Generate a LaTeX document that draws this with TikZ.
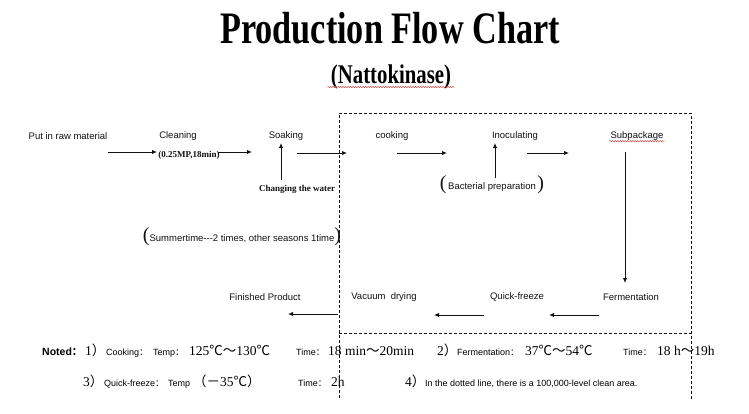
\documentclass[tikz,border=0pt]{standalone}
\usepackage{fontspec}
\setmainfont{Liberation Serif}
\setsansfont{Liberation Sans}
\newfontfamily\cjkfont{Noto Sans CJK SC}
\usepackage{graphicx}
\usetikzlibrary{arrows.meta, decorations.pathmorphing}
\definecolor{flowblack}{HTML}{111111}
\definecolor{spellred}{HTML}{D04848}
\newcommand{\degC}{{\cjkfont ℃}}
\newcommand{\wtilde}{{\cjkfont ～}}
\newcommand{\wcolon}{{\cjkfont ：}}
\newcommand{\wlparen}{{\cjkfont （}}
\newcommand{\wrparen}{{\cjkfont ）}}
\newcommand{\wminus}{{\cjkfont －}}
\newcommand{\bigparen}[1]{{\rmfamily\fontsize{20}{20}\selectfont #1}}

\begin{document}
\begin{tikzpicture}[
  x=1pt, y=-1pt,
  lbl/.style={font=\sffamily\fontsize{9.5}{11}\selectfont, inner sep=1pt, text=flowblack},
  serlbl/.style={font=\rmfamily\bfseries\fontsize{9}{10}\selectfont, inner sep=1pt, text=flowblack},
  note/.style={font=\sffamily\fontsize{9}{10}\selectfont, anchor=base west, inner sep=0pt},
  num/.style={font=\rmfamily\fontsize{13.5}{14}\selectfont, anchor=base west, inner sep=0pt},
  arrow/.style={-{Latex[length=5pt, width=4.5pt]}, line width=1pt, color=flowblack},
  cleanline/.style={dash pattern=on 3pt off 2pt, line width=0.8pt, color=flowblack},
  spell/.style={spellred, line width=0.5pt, decorate, decoration={snake, amplitude=0.6pt, segment length=2.5pt}},
]
\useasboundingbox (0,0) rectangle (749,413);

% title
\node[anchor=base] (title) at (390,43)
  {\scalebox{0.76}[1]{\fontsize{45}{45}\selectfont\bfseries Production Flow Chart}};
\node[anchor=base] (product) at (391,83)
  {\scalebox{0.77}[1]{\fontsize{27}{27}\selectfont\bfseries (Nattokinase)}};
\draw[spell] ([yshift=-4pt]product.base west) -- ([yshift=-4pt]product.base east);

% clean area
\coordinate (cltop) at (339,113);
\coordinate (crtop) at (691,113);
\draw[cleanline] (339,398) -- (cltop) -- (crtop) -- (691,399);
\draw[cleanline] (339,333) -- (691,333);

% upper row
\node[lbl] (raw) at (68,136) {Put in raw material};
\node[lbl] (clean) at (178,136) {Cleaning};
\node[serlbl] (press) at (189,155) {(0.25MP,18min)};
\node[lbl] (soak) at (286,136) {Soaking};
\node[serlbl] (water) at (297,189) {Changing the water};
\node[lbl] (season) at (242,237)
  {\bigparen{(}Summertime-{}-{}-2 times, other seasons 1time\bigparen{)}};
\node[lbl] (cook) at (392,136) {cooking};
\node[lbl] (inoc) at (515,136) {Inoculating};
\node[lbl] (bact) at (492,185) {\bigparen{(}\,Bacterial preparation\,\bigparen{)}};
\node[lbl] (sub) at (637,136) {Subpackage};
\draw[spell] ([yshift=0.5pt]sub.south west) -- ([yshift=0.5pt]sub.south east);

% lower row
\node[lbl] (ferm) at (631,297) {Fermentation};
\node[lbl] (freeze) at (517,297) {Quick-freeze};
\node[lbl] (vac) at (384,297) {Vacuum~~drying};
\node[lbl] (fin) at (265,297) {Finished Product};

% arrow ends
\coordinate (a1s) at (108,152); \coordinate (a1e) at (157,152);
\coordinate (a2s) at (218,152); \coordinate (a2e) at (252,152);
\coordinate (a3s) at (297,153); \coordinate (a3e) at (347,153);
\coordinate (a4s) at (397,153); \coordinate (a4e) at (447,153);
\coordinate (a5s) at (527,153); \coordinate (a5e) at (569,153);
\coordinate (u1s) at (281,180); \coordinate (u1e) at (281,143);
\coordinate (u2s) at (495,178); \coordinate (u2e) at (495,143);
\coordinate (d1s) at (625,152); \coordinate (d1e) at (625,283);
\coordinate (b1s) at (599,315); \coordinate (b1e) at (549,315);
\coordinate (b2s) at (484,315); \coordinate (b2e) at (434,315);
\coordinate (b3s) at (338,314); \coordinate (b3e) at (288,314);

\draw[arrow] (a1s) -- (a1e);
\draw[arrow] (a2s) -- (a2e);
\draw[arrow] (a3s) -- (a3e);
\draw[arrow] (a4s) -- (a4e);
\draw[arrow] (a5s) -- (a5e);
\draw[arrow] (u1s) -- (u1e);
\draw[arrow] (u2s) -- (u2e);
\draw[arrow] (d1s) -- (d1e);
\draw[arrow] (b1s) -- (b1e);
\draw[arrow] (b2s) -- (b2e);
\draw[arrow] (b3s) -- (b3e);

% notes
\node[note, font=\sffamily\bfseries\fontsize{10.5}{12}\selectfont] (noted) at (42,355) {Noted\wcolon};
\node[num] (one) at (85,355) {1\wrparen};
\node[note] (cooknote) at (106,355) {Cooking\wcolon};
\node[note] (tempa) at (153,355) {Temp\wcolon};
\node[num] (cooktemp) at (189,355) {125\degC\wtilde130\degC};
\node[note] (timea) at (296,355) {Time\wcolon};
\node[num] (cooktime) at (328,355) {18 min\wtilde20min};
\node[num] (two) at (437,355) {2\wrparen};
\node[note] (fermnote) at (457,355) {Fermentation\wcolon};
\node[num] (fermtemp) at (525,355) {37\degC\wtilde54\degC};
\node[note] (timeb) at (623,355) {Time\wcolon};
\node[num] (fermtime) at (657,355) {18 h\wtilde19h};

\node[num] (three) at (83,386) {3\wrparen};
\node[note] (qfnote) at (104,386) {Quick-freeze\wcolon};
\node[note] (tempb) at (168,386) {Temp};
\node[num] (qftemp) at (193,386) {\wlparen\wminus35\degC\wrparen};
\node[note] (timec) at (298,386) {Time\wcolon};
\node[num] (qftime) at (331,386) {2h};
\node[num] (four) at (405,386) {4\wrparen};
\node[note] (cleannote) at (425,386) {In the dotted line, there is a 100,000-level clean area.};
\end{tikzpicture}
\end{document}
